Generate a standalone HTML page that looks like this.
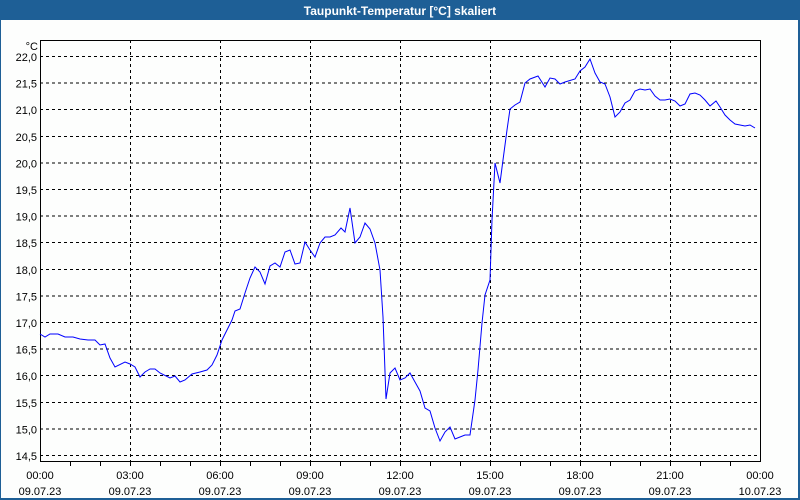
<!DOCTYPE html>
<html><head><meta charset="utf-8"><style>
html,body{margin:0;padding:0;background:#fff;}
svg{display:block;font-family:"Liberation Sans",sans-serif;}
</style></head><body>
<svg width="800" height="500" viewBox="0 0 800 500" xmlns="http://www.w3.org/2000/svg">
<rect x="0" y="0" width="800" height="500" fill="#1e5f96"/>
<rect x="1" y="20" width="797" height="478" fill="#fdfefd"/>
<text x="400" y="15" fill="#fff" font-size="12" font-weight="bold" text-anchor="middle">Taupunkt-Temperatur [°C] skaliert</text>
<g stroke="#000" stroke-width="1" stroke-dasharray="3,3" fill="none" shape-rendering="crispEdges">
<path d="M40 56.5H760M40 83.1H760M40 109.7H760M40 136.3H760M40 162.9H760M40 189.5H760M40 216.1H760M40 242.7H760M40 269.3H760M40 295.9H760M40 322.5H760M40 349.1H760M40 375.7H760M40 402.3H760M40 428.9H760M40 455.5H760"/>
<path d="M130.5 40V461M220.5 40V461M310.5 40V461M400.5 40V461M490.5 40V461M580.5 40V461M670.5 40V461"/>
</g>
<g stroke="#000" stroke-width="1" fill="none" shape-rendering="crispEdges">
<rect x="40.5" y="40.5" width="720" height="421"/>
<path d="M70.5 461V466M100.5 461V466M130.5 461V466M160.5 461V466M190.5 461V466M220.5 461V466M250.5 461V466M280.5 461V466M310.5 461V466M340.5 461V466M370.5 461V466M400.5 461V466M430.5 461V466M460.5 461V466M490.5 461V466M520.5 461V466M550.5 461V466M580.5 461V466M610.5 461V466M640.5 461V466M670.5 461V466M700.5 461V466M730.5 461V466"/>
</g>
<polyline fill="none" stroke="#0000ff" stroke-width="1" points="40,334 45,337 50,334 58,334 65,337 73,337 80,339 88,340 95,340 100,345 105,344 110,358 115,367 125,362 130,364 135,367 140,377 145,372 150,369 155,369 160,373 170,378 175,376 180,382 185,380 192,374 200,372 207,370 212,365 217,355 222,340 227,330 232,320 235,311 240,309 245,293 250,278 255,267 260,272 265,284 270,266 275,263 280,267 285,252 290,250 295,264 300,263 305,242 310,250 315,257 320,243 325,237 330,237 335,235 341,228 345,232 350,208 355,243 360,237 365,223 370,229 375,243 380,270 383,317 386,399 390,373 395,368 400,380 405,378 410,373 415,382 420,391 425,408 430,411 435,428 440,441 445,432 450,427 455,439 460,437 465,435 470,435 475,400 478,370 482,323 485,295 490,280 492,220 495,163 500,183 503,160 507,130 510,109 515,105 520,102 525,83 530,79 538,76 545,87 550,78 555,79 560,84 565,82 575,79 580,71 585,67 590,59 595,73 600,82 605,84 610,97 615,117 620,112 625,103 630,100 635,91 640,89 645,90 650,89 655,96 660,100 665,100 670,99 675,101 680,106 685,104 690,94 695,93 700,95 705,100 710,106 716,101 720,107 725,115 730,120 735,124 740,125 745,126 750,125 755,128"/>
<g font-size="11" fill="#000" text-anchor="end">
<text x="38" y="50">°C</text>
<text x="37" y="61">22,0</text><text x="37" y="87.6">21,5</text><text x="37" y="114.2">21,0</text><text x="37" y="140.8">20,5</text><text x="37" y="167.4">20,0</text><text x="37" y="194">19,5</text><text x="37" y="220.6">19,0</text><text x="37" y="247.2">18,5</text><text x="37" y="273.8">18,0</text><text x="37" y="300.4">17,5</text><text x="37" y="327">17,0</text><text x="37" y="353.6">16,5</text><text x="37" y="380.2">16,0</text><text x="37" y="406.8">15,5</text><text x="37" y="433.4">15,0</text><text x="37" y="460">14,5</text>
</g>
<g font-size="11" fill="#000" text-anchor="middle">
<text x="40" y="479">00:00</text><text x="40" y="495">09.07.23</text>
<text x="130" y="479">03:00</text><text x="130" y="495">09.07.23</text>
<text x="220" y="479">06:00</text><text x="220" y="495">09.07.23</text>
<text x="310" y="479">09:00</text><text x="310" y="495">09.07.23</text>
<text x="400" y="479">12:00</text><text x="400" y="495">09.07.23</text>
<text x="490" y="479">15:00</text><text x="490" y="495">09.07.23</text>
<text x="580" y="479">18:00</text><text x="580" y="495">09.07.23</text>
<text x="670" y="479">21:00</text><text x="670" y="495">09.07.23</text>
<text x="760" y="479">00:00</text><text x="760" y="495">10.07.23</text>
</g>
</svg>
</body></html>
